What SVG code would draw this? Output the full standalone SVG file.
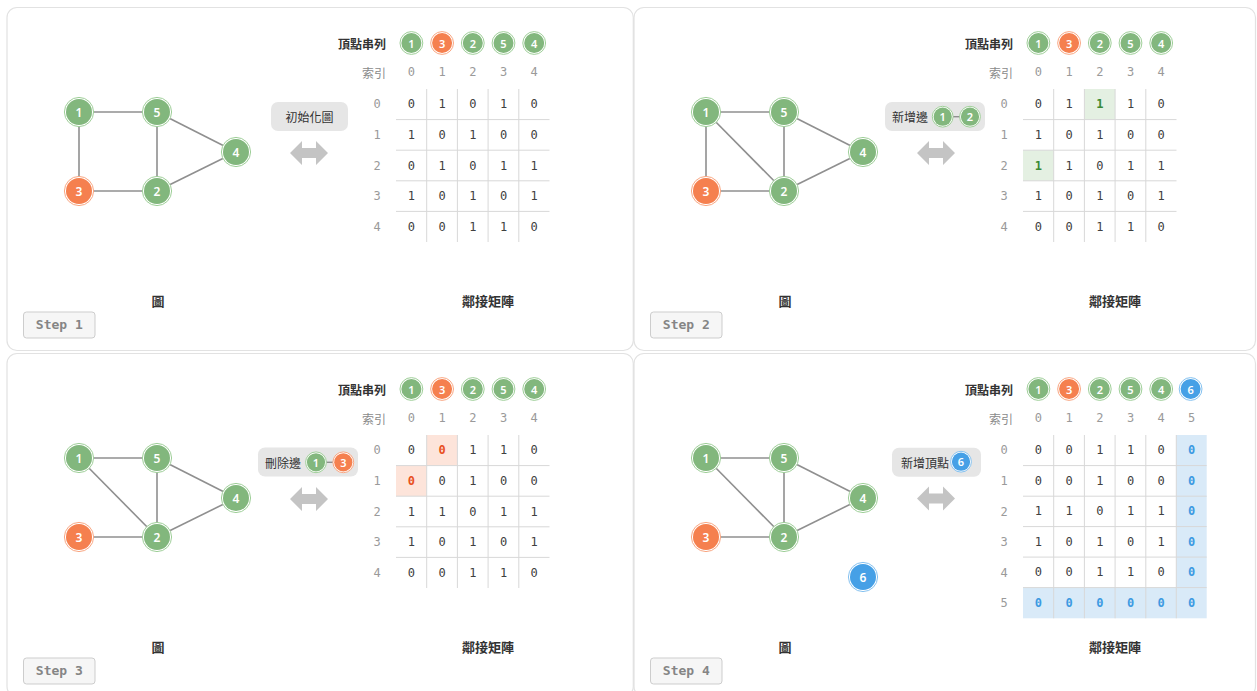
<svg xmlns="http://www.w3.org/2000/svg" xmlns:xlink="http://www.w3.org/1999/xlink" width="1257" height="691" viewBox="0 0 1257 691">
<style>
.panel{fill:#fff;stroke:#e2e2e2;stroke-width:1.2}
.edges line{stroke:#8f8f8f;stroke-width:1.6}
.g{--c:#82b77d;--r:#9fcf99}
.o{--c:#f5804f;--r:#f9a783}
.b{--c:#46a0e6;--r:#86c2f0}
.ring{fill:#fff;stroke:var(--r);stroke-width:1}
.core{fill:var(--c)}
.nt{fill:#fff;font-family:"Noto Sans","DejaVu Sans",sans-serif;font-size:12px;font-weight:600;text-anchor:middle;dominant-baseline:central}
.mt{fill:#fff;font-family:"Noto Sans","DejaVu Sans",sans-serif;font-size:11px;font-weight:600;text-anchor:middle;dominant-baseline:central}
.cjk{font-family:"Noto Sans CJK TC","Noto Sans CJK SC",sans-serif;font-size:12px;dominant-baseline:central}
.hd{fill:#333;font-weight:700;text-anchor:end}
.ix{fill:#8a8a8a;text-anchor:end}
.ttl{fill:#333;font-weight:700;font-size:13px;text-anchor:middle}
.lbl{fill:#333;text-anchor:middle}
.lbox{fill:#e6e6e6}
.num{font-family:"DejaVu Sans Mono",monospace;font-size:12px;text-anchor:middle;dominant-baseline:central}
.v{fill:#404040}
.i{fill:#9a9a9a}
.hg{fill:#3a8a35;font-weight:700}
.hr{fill:#e8501e;font-weight:700}
.hb{fill:#3d9ae2;font-weight:700}
.grid line{stroke:#d8d8d8;stroke-width:1}
.cg{fill:#e4f0e2}
.cr{fill:#fde4da}
.cb{fill:#d9eaf8}
.step rect{fill:#f6f6f6;stroke:#cdcdcd;stroke-width:1}
.step text{fill:#858585;font-family:"DejaVu Sans Mono",monospace;font-weight:700;font-size:13px;text-anchor:middle;dominant-baseline:central}
.arw{fill:#c4c4c4}
.ml{stroke:#8f8f8f;stroke-width:1.4}
</style>
<defs>
<path id="darrow" d="M-19,0 L-7,-12 L-7,-5 L7,-5 L7,-12 L19,0 L7,12 L7,5 L-7,5 L-7,12 Z"/>
<g id="nb"><circle class="ring" r="14.6"/><circle class="core" r="13"/></g>
<g id="hbx"><circle class="ring" r="11.4"/><circle class="core" r="10"/></g>
<g id="mb"><circle class="ring" r="10.4"/><circle class="core" r="9.1"/></g>
</defs>

<!-- ===================== PANEL 1 ===================== -->
<g id="panel1">
<rect class="panel" x="7" y="7.5" width="626.3" height="343" rx="10"/>
<g id="p1-connectors" class="edges">
<line x1="79" y1="112" x2="157" y2="112"/>
<line x1="79" y1="112" x2="79" y2="191"/>
<line x1="157" y1="112" x2="157" y2="191"/>
<line x1="79" y1="191" x2="157" y2="191"/>
<line x1="157" y1="112" x2="236" y2="152"/>
<line x1="157" y1="191" x2="236" y2="152"/>
</g>
<g id="p1-n1" class="g" transform="translate(79,112)"><use xlink:href="#nb"/><text class="nt">1</text></g>
<g id="p1-n5" class="g" transform="translate(157,112)"><use xlink:href="#nb"/><text class="nt">5</text></g>
<g id="p1-n4" class="g" transform="translate(236,152)"><use xlink:href="#nb"/><text class="nt">4</text></g>
<g id="p1-n3" class="o" transform="translate(79,191)"><use xlink:href="#nb"/><text class="nt">3</text></g>
<g id="p1-n2" class="g" transform="translate(157,191)"><use xlink:href="#nb"/><text class="nt">2</text></g>
<g id="p1-label">
<rect class="lbox" x="271" y="102" width="77" height="29" rx="7"/>
<text class="cjk lbl" x="309.5" y="116.5">初始化圖</text>
</g>
<use class="arw" xlink:href="#darrow" x="309" y="153"/>
<g id="p1-table">
<text class="cjk hd" x="386" y="43">頂點串列</text>
<g class="g" transform="translate(411.4,43)"><use xlink:href="#hbx"/><text class="mt">1</text></g>
<g class="o" transform="translate(442.1,43)"><use xlink:href="#hbx"/><text class="mt">3</text></g>
<g class="g" transform="translate(472.8,43)"><use xlink:href="#hbx"/><text class="mt">2</text></g>
<g class="g" transform="translate(503.5,43)"><use xlink:href="#hbx"/><text class="mt">5</text></g>
<g class="g" transform="translate(534.2,43)"><use xlink:href="#hbx"/><text class="mt">4</text></g>
<text class="cjk ix" x="386" y="72">索引</text>
<g class="num i"><text x="411.4" y="72">0</text><text x="442.1" y="72">1</text><text x="472.8" y="72">2</text><text x="503.5" y="72">3</text><text x="534.2" y="72">4</text>
<text x="377" y="104.3">0</text><text x="377" y="134.9">1</text><text x="377" y="165.5">2</text><text x="377" y="196.1">3</text><text x="377" y="226.7">4</text></g>
<g class="grid">
<line x1="426.7" y1="89" x2="426.7" y2="242"/><line x1="457.4" y1="89" x2="457.4" y2="242"/><line x1="488.1" y1="89" x2="488.1" y2="242"/><line x1="518.8" y1="89" x2="518.8" y2="242"/>
<line x1="396" y1="119.6" x2="549.5" y2="119.6"/><line x1="396" y1="150.2" x2="549.5" y2="150.2"/><line x1="396" y1="180.8" x2="549.5" y2="180.8"/><line x1="396" y1="211.4" x2="549.5" y2="211.4"/>
</g>
<g class="num v">
<text x="411.4" y="104.3">0</text><text x="442.1" y="104.3">1</text><text x="472.8" y="104.3">0</text><text x="503.5" y="104.3">1</text><text x="534.2" y="104.3">0</text>
<text x="411.4" y="134.9">1</text><text x="442.1" y="134.9">0</text><text x="472.8" y="134.9">1</text><text x="503.5" y="134.9">0</text><text x="534.2" y="134.9">0</text>
<text x="411.4" y="165.5">0</text><text x="442.1" y="165.5">1</text><text x="472.8" y="165.5">0</text><text x="503.5" y="165.5">1</text><text x="534.2" y="165.5">1</text>
<text x="411.4" y="196.1">1</text><text x="442.1" y="196.1">0</text><text x="472.8" y="196.1">1</text><text x="503.5" y="196.1">0</text><text x="534.2" y="196.1">1</text>
<text x="411.4" y="226.7">0</text><text x="442.1" y="226.7">0</text><text x="472.8" y="226.7">1</text><text x="503.5" y="226.7">1</text><text x="534.2" y="226.7">0</text>
</g>
</g>
<text class="cjk ttl" x="158" y="300">圖</text>
<text class="cjk ttl" x="488" y="300">鄰接矩陣</text>
<g class="step"><rect x="23.5" y="312" width="71.5" height="26" rx="3"/><text x="59.3" y="324.5">Step 1</text></g>
</g>

<!-- ===================== PANEL 2 ===================== -->
<g id="panel2" transform="translate(627,0)">
<rect class="panel" x="7" y="7.5" width="621.5" height="343" rx="10"/>
<g id="p2-connectors" class="edges">
<line x1="79" y1="112" x2="157" y2="112"/>
<line x1="79" y1="112" x2="79" y2="191"/>
<line x1="79" y1="112" x2="157" y2="191"/>
<line x1="157" y1="112" x2="157" y2="191"/>
<line x1="79" y1="191" x2="157" y2="191"/>
<line x1="157" y1="112" x2="236" y2="152"/>
<line x1="157" y1="191" x2="236" y2="152"/>
</g>
<g id="p2-n1" class="g" transform="translate(79,112)"><use xlink:href="#nb"/><text class="nt">1</text></g>
<g id="p2-n5" class="g" transform="translate(157,112)"><use xlink:href="#nb"/><text class="nt">5</text></g>
<g id="p2-n4" class="g" transform="translate(236,152)"><use xlink:href="#nb"/><text class="nt">4</text></g>
<g id="p2-n3" class="o" transform="translate(79,191)"><use xlink:href="#nb"/><text class="nt">3</text></g>
<g id="p2-n2" class="g" transform="translate(157,191)"><use xlink:href="#nb"/><text class="nt">2</text></g>
<g id="p2-label">
<rect class="lbox" x="258" y="102" width="100" height="29" rx="7"/>
<text class="cjk lbl" x="283" y="116.5">新增邊</text>
<line class="ml" x1="318" y1="116.7" x2="341" y2="116.7"/>
<g class="g" transform="translate(315.7,116.7)"><use xlink:href="#mb"/><text class="mt">1</text></g>
<g class="g" transform="translate(343,116.7)"><use xlink:href="#mb"/><text class="mt">2</text></g>
</g>
<use class="arw" xlink:href="#darrow" x="309" y="153"/>
<g id="p2-table">
<text class="cjk hd" x="386" y="43">頂點串列</text>
<g class="g" transform="translate(411.4,43)"><use xlink:href="#hbx"/><text class="mt">1</text></g>
<g class="o" transform="translate(442.1,43)"><use xlink:href="#hbx"/><text class="mt">3</text></g>
<g class="g" transform="translate(472.8,43)"><use xlink:href="#hbx"/><text class="mt">2</text></g>
<g class="g" transform="translate(503.5,43)"><use xlink:href="#hbx"/><text class="mt">5</text></g>
<g class="g" transform="translate(534.2,43)"><use xlink:href="#hbx"/><text class="mt">4</text></g>
<text class="cjk ix" x="386" y="72">索引</text>
<g class="num i"><text x="411.4" y="72">0</text><text x="442.1" y="72">1</text><text x="472.8" y="72">2</text><text x="503.5" y="72">3</text><text x="534.2" y="72">4</text>
<text x="377" y="104.3">0</text><text x="377" y="134.9">1</text><text x="377" y="165.5">2</text><text x="377" y="196.1">3</text><text x="377" y="226.7">4</text></g>
<rect class="cg" x="457.4" y="89" width="30.7" height="30.6"/>
<rect class="cg" x="396" y="150.2" width="30.7" height="30.6"/>
<g class="grid">
<line x1="426.7" y1="89" x2="426.7" y2="242"/><line x1="457.4" y1="89" x2="457.4" y2="242"/><line x1="488.1" y1="89" x2="488.1" y2="242"/><line x1="518.8" y1="89" x2="518.8" y2="242"/>
<line x1="396" y1="119.6" x2="549.5" y2="119.6"/><line x1="396" y1="150.2" x2="549.5" y2="150.2"/><line x1="396" y1="180.8" x2="549.5" y2="180.8"/><line x1="396" y1="211.4" x2="549.5" y2="211.4"/>
</g>
<g class="num v">
<text x="411.4" y="104.3">0</text><text x="442.1" y="104.3">1</text><text class="hg" x="472.8" y="104.3">1</text><text x="503.5" y="104.3">1</text><text x="534.2" y="104.3">0</text>
<text x="411.4" y="134.9">1</text><text x="442.1" y="134.9">0</text><text x="472.8" y="134.9">1</text><text x="503.5" y="134.9">0</text><text x="534.2" y="134.9">0</text>
<text class="hg" x="411.4" y="165.5">1</text><text x="442.1" y="165.5">1</text><text x="472.8" y="165.5">0</text><text x="503.5" y="165.5">1</text><text x="534.2" y="165.5">1</text>
<text x="411.4" y="196.1">1</text><text x="442.1" y="196.1">0</text><text x="472.8" y="196.1">1</text><text x="503.5" y="196.1">0</text><text x="534.2" y="196.1">1</text>
<text x="411.4" y="226.7">0</text><text x="442.1" y="226.7">0</text><text x="472.8" y="226.7">1</text><text x="503.5" y="226.7">1</text><text x="534.2" y="226.7">0</text>
</g>
</g>
<text class="cjk ttl" x="158" y="300">圖</text>
<text class="cjk ttl" x="488" y="300">鄰接矩陣</text>
<g class="step"><rect x="23.5" y="312" width="71.5" height="26" rx="3"/><text x="59.3" y="324.5">Step 2</text></g>
</g>

<!-- ===================== PANEL 3 ===================== -->
<g id="panel3" transform="translate(0,346)">
<rect class="panel" x="7" y="7.5" width="626.3" height="343" rx="10"/>
<g id="p3-connectors" class="edges">
<line x1="79" y1="112" x2="157" y2="112"/>
<line x1="79" y1="112" x2="157" y2="191"/>
<line x1="157" y1="112" x2="157" y2="191"/>
<line x1="79" y1="191" x2="157" y2="191"/>
<line x1="157" y1="112" x2="236" y2="152"/>
<line x1="157" y1="191" x2="236" y2="152"/>
</g>
<g id="p3-n1" class="g" transform="translate(79,112)"><use xlink:href="#nb"/><text class="nt">1</text></g>
<g id="p3-n5" class="g" transform="translate(157,112)"><use xlink:href="#nb"/><text class="nt">5</text></g>
<g id="p3-n4" class="g" transform="translate(236,152)"><use xlink:href="#nb"/><text class="nt">4</text></g>
<g id="p3-n3" class="o" transform="translate(79,191)"><use xlink:href="#nb"/><text class="nt">3</text></g>
<g id="p3-n2" class="g" transform="translate(157,191)"><use xlink:href="#nb"/><text class="nt">2</text></g>
<g id="p3-label">
<rect class="lbox" x="258" y="101.5" width="100" height="29" rx="7"/>
<text class="cjk lbl" x="283" y="116">刪除邊</text>
<line class="ml" x1="319" y1="116.3" x2="341" y2="116.3"/>
<g class="g" transform="translate(316,116.3)"><use xlink:href="#mb"/><text class="mt">1</text></g>
<g class="o" transform="translate(343.3,116.3)"><use xlink:href="#mb"/><text class="mt">3</text></g>
</g>
<use class="arw" xlink:href="#darrow" x="309" y="153"/>
<g id="p3-table">
<text class="cjk hd" x="386" y="43">頂點串列</text>
<g class="g" transform="translate(411.4,43)"><use xlink:href="#hbx"/><text class="mt">1</text></g>
<g class="o" transform="translate(442.1,43)"><use xlink:href="#hbx"/><text class="mt">3</text></g>
<g class="g" transform="translate(472.8,43)"><use xlink:href="#hbx"/><text class="mt">2</text></g>
<g class="g" transform="translate(503.5,43)"><use xlink:href="#hbx"/><text class="mt">5</text></g>
<g class="g" transform="translate(534.2,43)"><use xlink:href="#hbx"/><text class="mt">4</text></g>
<text class="cjk ix" x="386" y="72">索引</text>
<g class="num i"><text x="411.4" y="72">0</text><text x="442.1" y="72">1</text><text x="472.8" y="72">2</text><text x="503.5" y="72">3</text><text x="534.2" y="72">4</text>
<text x="377" y="104.3">0</text><text x="377" y="134.9">1</text><text x="377" y="165.5">2</text><text x="377" y="196.1">3</text><text x="377" y="226.7">4</text></g>
<rect class="cr" x="426.7" y="89" width="30.7" height="30.6"/>
<rect class="cr" x="396" y="119.6" width="30.7" height="30.6"/>
<g class="grid">
<line x1="426.7" y1="89" x2="426.7" y2="242"/><line x1="457.4" y1="89" x2="457.4" y2="242"/><line x1="488.1" y1="89" x2="488.1" y2="242"/><line x1="518.8" y1="89" x2="518.8" y2="242"/>
<line x1="396" y1="119.6" x2="549.5" y2="119.6"/><line x1="396" y1="150.2" x2="549.5" y2="150.2"/><line x1="396" y1="180.8" x2="549.5" y2="180.8"/><line x1="396" y1="211.4" x2="549.5" y2="211.4"/>
</g>
<g class="num v">
<text x="411.4" y="104.3">0</text><text class="hr" x="442.1" y="104.3">0</text><text x="472.8" y="104.3">1</text><text x="503.5" y="104.3">1</text><text x="534.2" y="104.3">0</text>
<text class="hr" x="411.4" y="134.9">0</text><text x="442.1" y="134.9">0</text><text x="472.8" y="134.9">1</text><text x="503.5" y="134.9">0</text><text x="534.2" y="134.9">0</text>
<text x="411.4" y="165.5">1</text><text x="442.1" y="165.5">1</text><text x="472.8" y="165.5">0</text><text x="503.5" y="165.5">1</text><text x="534.2" y="165.5">1</text>
<text x="411.4" y="196.1">1</text><text x="442.1" y="196.1">0</text><text x="472.8" y="196.1">1</text><text x="503.5" y="196.1">0</text><text x="534.2" y="196.1">1</text>
<text x="411.4" y="226.7">0</text><text x="442.1" y="226.7">0</text><text x="472.8" y="226.7">1</text><text x="503.5" y="226.7">1</text><text x="534.2" y="226.7">0</text>
</g>
</g>
<text class="cjk ttl" x="158" y="300">圖</text>
<text class="cjk ttl" x="488" y="300">鄰接矩陣</text>
<g class="step"><rect x="23.5" y="312" width="71.5" height="26" rx="3"/><text x="59.3" y="324.5">Step 3</text></g>
</g>

<!-- ===================== PANEL 4 ===================== -->
<g id="panel4" transform="translate(627,346)">
<rect class="panel" x="7" y="7.5" width="621.5" height="343" rx="10"/>
<g id="p4-connectors" class="edges">
<line x1="79" y1="112" x2="157" y2="112"/>
<line x1="79" y1="112" x2="157" y2="191"/>
<line x1="157" y1="112" x2="157" y2="191"/>
<line x1="79" y1="191" x2="157" y2="191"/>
<line x1="157" y1="112" x2="236" y2="152"/>
<line x1="157" y1="191" x2="236" y2="152"/>
</g>
<g id="p4-n1" class="g" transform="translate(79,112)"><use xlink:href="#nb"/><text class="nt">1</text></g>
<g id="p4-n5" class="g" transform="translate(157,112)"><use xlink:href="#nb"/><text class="nt">5</text></g>
<g id="p4-n4" class="g" transform="translate(236,152)"><use xlink:href="#nb"/><text class="nt">4</text></g>
<g id="p4-n3" class="o" transform="translate(79,191)"><use xlink:href="#nb"/><text class="nt">3</text></g>
<g id="p4-n2" class="g" transform="translate(157,191)"><use xlink:href="#nb"/><text class="nt">2</text></g>
<g id="p4-n6" class="b" transform="translate(236,231)"><use xlink:href="#nb"/><text class="nt">6</text></g>
<g id="p4-label">
<rect class="lbox" x="265" y="101.7" width="89" height="29" rx="7"/>
<text class="cjk lbl" x="298" y="116">新增頂點</text>
<g class="b" transform="translate(334,115.7)"><use xlink:href="#mb"/><text class="mt">6</text></g>
</g>
<use class="arw" xlink:href="#darrow" x="309" y="152.5"/>
<g id="p4-table">
<text class="cjk hd" x="386" y="43">頂點串列</text>
<g class="g" transform="translate(411.4,43)"><use xlink:href="#hbx"/><text class="mt">1</text></g>
<g class="o" transform="translate(442.1,43)"><use xlink:href="#hbx"/><text class="mt">3</text></g>
<g class="g" transform="translate(472.8,43)"><use xlink:href="#hbx"/><text class="mt">2</text></g>
<g class="g" transform="translate(503.5,43)"><use xlink:href="#hbx"/><text class="mt">5</text></g>
<g class="g" transform="translate(534.2,43)"><use xlink:href="#hbx"/><text class="mt">4</text></g>
<g class="b" transform="translate(563.6,43)"><use xlink:href="#hbx"/><text class="mt">6</text></g>
<text class="cjk ix" x="386" y="72">索引</text>
<g class="num i"><text x="411.4" y="72">0</text><text x="442.1" y="72">1</text><text x="472.8" y="72">2</text><text x="503.5" y="72">3</text><text x="534.2" y="72">4</text><text x="564.6" y="72">5</text>
<text x="377" y="104.3">0</text><text x="377" y="134.9">1</text><text x="377" y="165.5">2</text><text x="377" y="196.1">3</text><text x="377" y="226.7">4</text><text x="377" y="257.1">5</text></g>
<rect class="cb" x="549.3" y="89" width="30.4" height="183.3"/>
<rect class="cb" x="396" y="241.6" width="153.3" height="30.7"/>
<g class="grid">
<line x1="426.7" y1="89" x2="426.7" y2="272.3"/><line x1="457.4" y1="89" x2="457.4" y2="272.3"/><line x1="488.1" y1="89" x2="488.1" y2="272.3"/><line x1="518.8" y1="89" x2="518.8" y2="272.3"/><line x1="549.3" y1="89" x2="549.3" y2="272.3"/>
<line x1="396" y1="119.6" x2="579.7" y2="119.6"/><line x1="396" y1="150.2" x2="579.7" y2="150.2"/><line x1="396" y1="180.6" x2="579.7" y2="180.6"/><line x1="396" y1="211.1" x2="579.7" y2="211.1"/><line x1="396" y1="241.6" x2="579.7" y2="241.6"/>
</g>
<g class="num v">
<text x="411.4" y="104.3">0</text><text x="442.1" y="104.3">0</text><text x="472.8" y="104.3">1</text><text x="503.5" y="104.3">1</text><text x="534.2" y="104.3">0</text><text class="hb" x="564.6" y="104.3">0</text>
<text x="411.4" y="134.9">0</text><text x="442.1" y="134.9">0</text><text x="472.8" y="134.9">1</text><text x="503.5" y="134.9">0</text><text x="534.2" y="134.9">0</text><text class="hb" x="564.6" y="134.9">0</text>
<text x="411.4" y="165.4">1</text><text x="442.1" y="165.4">1</text><text x="472.8" y="165.4">0</text><text x="503.5" y="165.4">1</text><text x="534.2" y="165.4">1</text><text class="hb" x="564.6" y="165.4">0</text>
<text x="411.4" y="195.9">1</text><text x="442.1" y="195.9">0</text><text x="472.8" y="195.9">1</text><text x="503.5" y="195.9">0</text><text x="534.2" y="195.9">1</text><text class="hb" x="564.6" y="195.9">0</text>
<text x="411.4" y="226.4">0</text><text x="442.1" y="226.4">0</text><text x="472.8" y="226.4">1</text><text x="503.5" y="226.4">1</text><text x="534.2" y="226.4">0</text><text class="hb" x="564.6" y="226.4">0</text>
<text class="hb" x="411.4" y="257">0</text><text class="hb" x="442.1" y="257">0</text><text class="hb" x="472.8" y="257">0</text><text class="hb" x="503.5" y="257">0</text><text class="hb" x="534.2" y="257">0</text><text class="hb" x="564.6" y="257">0</text>
</g>
</g>
<text class="cjk ttl" x="158" y="300">圖</text>
<text class="cjk ttl" x="488" y="300">鄰接矩陣</text>
<g class="step"><rect x="23.5" y="312" width="71.5" height="26" rx="3"/><text x="59.3" y="324.5">Step 4</text></g>
</g>
</svg>
